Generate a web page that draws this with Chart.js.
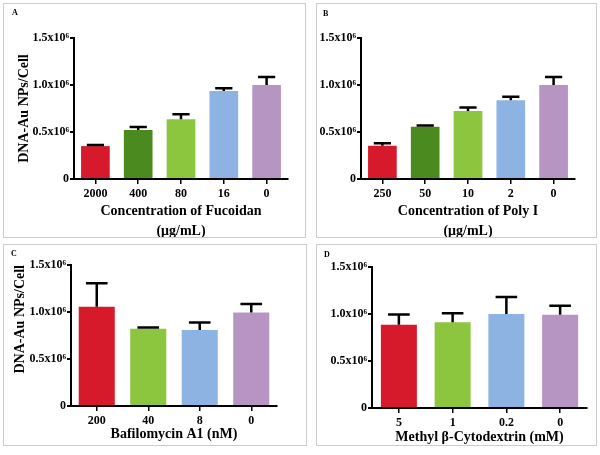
<!DOCTYPE html>
<html>
<head>
<meta charset="utf-8">
<script src="https://cdn.jsdelivr.net/npm/chart.js@4/dist/chart.umd.min.js"></script>
<style>
  body { margin: 0; background: #fff; }
  .panel { position: absolute; box-sizing: border-box; border: 1px solid #cccccc; background: #fff; }
  .panel canvas { position: absolute; left: 0; top: 0; }
  .letter { position: absolute; font: bold 8px 'Liberation Serif', serif; color: #000; line-height: 10px; }
</style>
</head>
<body>
<div class="panel" style="left:3px;top:3px;width:303px;height:235px"><canvas id="chartA" width="301" height="233"></canvas><span class="letter" style="left:8px;top:4px">A</span></div>
<div class="panel" style="left:316px;top:3px;width:281px;height:235px"><canvas id="chartB" width="279" height="233"></canvas><span class="letter" style="left:6px;top:5px">B</span></div>
<div class="panel" style="left:3px;top:244px;width:304px;height:202px"><canvas id="chartC" width="302" height="200"></canvas><span class="letter" style="left:7px;top:4px">C</span></div>
<div class="panel" style="left:316px;top:244px;width:281px;height:202px"><canvas id="chartD" width="279" height="200"></canvas><span class="letter" style="left:7px;top:5px">D</span></div>
<script>
// Panel data (cells per condition, upper SEM)
const labelsA = ['2000', '400', '80', '16', '0'];
const valuesA = [350000, 520000, 635000, 935000, 1000000];
const errorsA = [12000, 33000, 55000, 30000, 85000];

const labelsB = ['250', '50', '10', '2', '0'];
const valuesB = [355000, 556000, 723000, 837000, 1000000];
const errorsB = [25000, 14000, 37000, 38000, 85000];

const labelsC = ['200', '40', '8', '0'];
const valuesC = [1056000, 822000, 808000, 995000];
const errorsC = [250000, 14000, 80000, 90000];

const labelsD = ['5', '1', '0.2', '0'];
const valuesD = [886000, 912000, 1000000, 993000];
const errorsD = [110000, 95000, 180000, 95000];

const yTicks = [0, 500000, 1000000, 1500000];

const RED = '#d61a2b', DKGREEN = '#4b8a1f', LTGREEN = '#8cc53e', BLUE = '#8db3e3', PURPLE = '#b795c3';
const serif = "'Liberation Serif', 'Times New Roman', serif";

// draws the upper half of each error bar (stem + cap)
const errorBars = {
    id: 'errorBars',
    afterDatasetsDraw(chart) {
        const ctx = chart.ctx;
        const y = chart.scales.y;
        chart.data.datasets.forEach((ds, di) => {
            const meta = chart.getDatasetMeta(di);
            meta.data.forEach((bar, i) => {
                const top = y.getPixelForValue(ds.data[i] + ds.errors[i]);
                const half = bar.width * 0.3;
                ctx.save();
                ctx.strokeStyle = '#000';
                ctx.lineWidth = 2.5;
                ctx.beginPath();
                ctx.moveTo(bar.x, bar.y);
                ctx.lineTo(bar.x, top);
                ctx.moveTo(bar.x - half, top);
                ctx.lineTo(bar.x + half, top);
                ctx.stroke();
                ctx.restore();
            });
        });
    }
};

function makePanel(id, labels, values, errors, colors, xTitle, yTitle, lay) {
    const ctx = document.getElementById(id).getContext('2d');
    new Chart(ctx, {
        type: 'bar',
        data: {
            labels: labels,
            datasets: [{
                data: values,
                errors: errors,
                backgroundColor: colors,
                borderWidth: 0,
                categoryPercentage: 1,
                barPercentage: lay.barPct
            }]
        },
        options: {
            responsive: false,
            animation: false,
            devicePixelRatio: 1,
            layout: { padding: { left: 0, right: lay.padRight, top: lay.padTop, bottom: 0 } },
            plugins: {
                legend: { display: false },
                tooltip: { enabled: false }
            },
            scales: {
                x: {
                    afterFit: s => { s.height = lay.xHeight; },
                    border: { color: '#000', width: 2 },
                    grid: { display: true, drawOnChartArea: false, drawTicks: true, tickLength: 5, color: '#000', lineWidth: 1.5, offset: false },
                    ticks: { color: '#000', padding: 3, font: { family: serif, size: 12, weight: 'bold' } },
                    title: {
                        display: true,
                        text: xTitle,
                        color: '#000',
                        font: { family: serif, size: 14, weight: 'bold', lineHeight: 1.45 },
                        padding: { top: 0, bottom: lay.xTitleBottom }
                    }
                },
                y: {
                    min: 0,
                    max: 1500000,
                    afterFit: s => { s.width = lay.yWidth; },
                    afterBuildTicks: s => { s.ticks = yTicks.map(v => ({ value: v })); },
                    border: { color: '#000', width: 2 },
                    grid: { display: true, drawOnChartArea: false, drawTicks: true, tickLength: 4, color: '#000', lineWidth: 2 },
                    ticks: {
                        color: '#000',
                        padding: 1,
                        font: { family: serif, size: 12, weight: 'bold' },
                        callback: v => v === 0 ? '0' : (v / 1000000).toFixed(1) + 'x10\u2076'
                    },
                    title: {
                        display: !!yTitle,
                        text: yTitle || '',
                        align: lay.yTitleAlign,
                        color: '#000',
                        font: { family: serif, size: 14, weight: 'bold' },
                        padding: { top: lay.yTitleTop, bottom: 0 }
                    }
                }
            }
        },
        plugins: [errorBars]
    });
}

makePanel('chartA', labelsA, valuesA, errorsA, [RED, DKGREEN, LTGREEN, BLUE, PURPLE],
    ['Concentration of Fucoidan', '(\u03bcg/mL)'], 'DNA-Au NPs/Cell',
    { padTop: 34, padRight: 17, yWidth: 70, xHeight: 58, xTitleBottom: -4.5, yTitleTop: 12, yTitleAlign: 'center', barPct: 0.67 });

makePanel('chartB', labelsB, valuesB, errorsB, [RED, DKGREEN, LTGREEN, BLUE, PURPLE],
    ['Concentration of Poly I', '(\u03bcg/mL)'], null,
    { padTop: 34, padRight: 21, yWidth: 44, xHeight: 58, xTitleBottom: -4.5, yTitleTop: 0, yTitleAlign: 'center', barPct: 0.67 });

makePanel('chartC', labelsC, valuesC, errorsC, [RED, LTGREEN, BLUE, PURPLE],
    'Bafilomycin A1 (nM)', 'DNA-Au NPs/Cell',
    { padTop: 20, padRight: 29, yWidth: 67, xHeight: 39, xTitleBottom: 0, yTitleTop: 7.6, yTitleAlign: 'end', barPct: 0.7 });

makePanel('chartD', labelsD, valuesD, errorsD, [RED, LTGREEN, BLUE, PURPLE],
    'Methyl \u03b2-Cytodextrin (mM)', null,
    { padTop: 22, padRight: 9, yWidth: 55, xHeight: 37, xTitleBottom: -3, yTitleTop: 0, yTitleAlign: 'center', barPct: 0.67 });
</script>
</body>
</html>
